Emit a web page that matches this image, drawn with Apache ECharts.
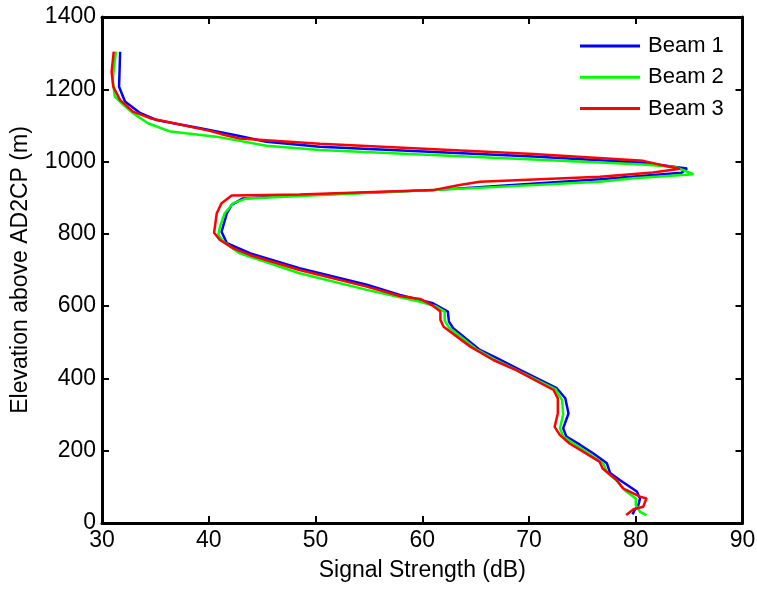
<!DOCTYPE html>
<html>
<head>
<meta charset="utf-8">
<script src="https://cdn.jsdelivr.net/npm/echarts@6/dist/echarts.min.js"></script>
<style>
  html, body { margin: 0; padding: 0; background: #fff; }
  #chart { width: 757px; height: 590px; }
</style>
</head>
<body>
<div id="chart"></div>
<script>
// Signal strength profiles (dB) versus elevation above the AD2CP (m), one pair per beam
const beam1Signal = [31.7, 31.6, 32.15, 33.6, 35.1, 39.2, 42.3, 45.4, 50.4, 70.4, 80.7, 84.8, 84.3, 76.65, 61.0, 48.5, 43.2, 42.15, 41.7, 41.2, 41.7, 43.9, 48.5, 54.8, 57.9, 61.0, 62.4, 62.5, 62.9, 65.4, 67.0, 69.2, 72.6, 73.4, 73.7, 73.2, 73.5, 74.8, 76.0, 77.3, 77.6, 78.5, 80.1, 80.4, 80.25, 79.9, 79.7];
const beam1Elev   = [1304, 1207, 1166, 1134, 1115, 1092, 1074, 1055, 1041, 1014, 997, 981, 969, 951, 921, 907, 898, 880, 857, 806, 774, 746, 705, 659, 631, 608, 585, 557, 539, 479, 456, 423, 373, 345, 303, 262, 239, 216, 193, 165, 138, 119, 87, 68, 50, 36, 24];

const beam2Signal = [31.3, 31.0, 31.2, 32.0, 32.9, 34.3, 36.4, 40.7, 45.4, 50.4, 70.4, 80.7, 83.7, 85.4, 79.8, 76.65, 61.0, 48.5, 43.55, 42.3, 41.5, 41.05, 40.9, 41.4, 42.9, 48.5, 54.8, 59.8, 61.2, 62.1, 62.1, 62.5, 65.0, 66.8, 69.0, 72.5, 73.1, 73.2, 72.9, 73.2, 74.4, 75.7, 77.0, 77.3, 78.2, 79.0, 80.0, 80.0, 80.4, 81.0];
const beam2Elev   = [1304, 1226, 1180, 1157, 1134, 1106, 1083, 1069, 1044, 1032, 1006, 992, 985, 965, 954, 944, 921, 905, 898, 885, 857, 820, 797, 778, 746, 691, 645, 612, 600, 585, 560, 541, 482, 452, 421, 370, 340, 300, 262, 239, 216, 190, 163, 140, 118, 90, 68, 50, 31, 22];

const beam3Signal = [31.1, 30.9, 31.06, 31.7, 32.9, 34.5, 40.1, 41.4, 42.9, 50.4, 70.4, 80.7, 82.6, 84.15, 81.6, 76.65, 65.4, 63.5, 61.0, 48.5, 42.15, 41.2, 40.75, 40.5, 41.05, 42.3, 43.9, 48.5, 54.8, 57.9, 59.8, 60.9, 61.7, 61.7, 62.0, 64.5, 66.65, 68.8, 72.3, 72.7, 72.7, 72.4, 72.9, 73.8, 76.6, 76.9, 78.2, 78.8, 80.4, 81.0, 80.7, 79.8, 79.1];
const beam3Elev   = [1304, 1248, 1207, 1170, 1138, 1120, 1085, 1074, 1064, 1049, 1021, 1002, 989, 980, 970, 958, 944, 935, 921, 909, 906, 885, 857, 803, 783, 760, 741, 700, 654, 628, 620, 603, 585, 562, 543, 488, 451, 423, 368, 345, 303, 266, 243, 220, 170, 151, 119, 96, 73, 68, 45, 38, 22];

const beamNames  = ['Beam 1', 'Beam 2', 'Beam 3'];
const beamColors = ['#0000ff', '#00ff00', '#ff0000'];

const xTicks = { min: 30, max: 90, interval: 10 };
const yTicks = { min: 0, max: 1400, interval: 200 };

const FONT = "'Liberation Sans', Arial, Helvetica, sans-serif";

function pairs(sig, elev) {
  return sig.map((s, i) => [s, elev[i]]);
}
const profiles = [
  pairs(beam1Signal, beam1Elev),
  pairs(beam2Signal, beam2Elev),
  pairs(beam3Signal, beam3Elev)
];

const plain = v => String(v);
const boxLine = { show: true, onZero: false, lineStyle: { color: '#000', width: 3 } };
const inTick = { show: true, inside: true, length: 7, lineStyle: { color: '#000', width: 2 } };

const chart = echarts.init(document.getElementById('chart'), null, { renderer: 'canvas' });
chart.setOption({
  animation: false,
  backgroundColor: '#fff',
  textStyle: { fontFamily: FONT },
  grid: { left: 102, right: 14.5, top: 17, bottom: 67, containLabel: false, outerBoundsMode: 'none' },
  legend: {
    data: beamNames,
    orient: 'vertical',
    left: 580,
    top: 35,
    padding: 0,
    icon: 'rect',
    itemWidth: 60,
    itemHeight: 3,
    itemGap: 9.3,
    textStyle: { fontSize: 22, color: '#000', fontFamily: FONT, lineHeight: 22, padding: [0, 0, 0, 3] }
  },
  xAxis: [
    {
      type: 'value', position: 'bottom',
      min: xTicks.min, max: xTicks.max, interval: xTicks.interval,
      name: 'Signal Strength (dB)', nameLocation: 'middle', nameGap: 36,
      nameTextStyle: { fontSize: 23, color: '#000', fontFamily: FONT },
      axisLine: boxLine, axisTick: inTick,
      axisLabel: { fontSize: 23, color: '#000', margin: 6, fontFamily: FONT, formatter: plain },
      splitLine: { show: false }
    },
    {
      type: 'value', position: 'top',
      min: xTicks.min, max: xTicks.max, interval: xTicks.interval,
      axisLine: boxLine, axisTick: inTick,
      axisLabel: { show: false }, splitLine: { show: false }
    }
  ],
  yAxis: [
    {
      type: 'value', position: 'left',
      min: yTicks.min, max: yTicks.max, interval: yTicks.interval,
      name: 'Elevation above AD2CP (m)', nameLocation: 'middle', nameGap: 70, nameRotate: 90,
      nameTextStyle: { fontSize: 23, color: '#000', fontFamily: FONT },
      axisLine: boxLine, axisTick: inTick,
      axisLabel: { fontSize: 23, color: '#000', margin: 6, fontFamily: FONT, formatter: plain },
      splitLine: { show: false }
    },
    {
      type: 'value', position: 'right',
      min: yTicks.min, max: yTicks.max, interval: yTicks.interval,
      axisLine: boxLine, axisTick: inTick,
      axisLabel: { show: false }, splitLine: { show: false }
    }
  ],
  series: profiles.map((data, i) => ({
    name: beamNames[i],
    type: 'line',
    xAxisIndex: 0,
    yAxisIndex: 0,
    data: data,
    symbol: 'none',
    showSymbol: false,
    smooth: false,
    color: beamColors[i],
    lineStyle: { color: beamColors[i], width: 2.5 },
    z: 2 + i
  }))
});
</script>
</body>
</html>
